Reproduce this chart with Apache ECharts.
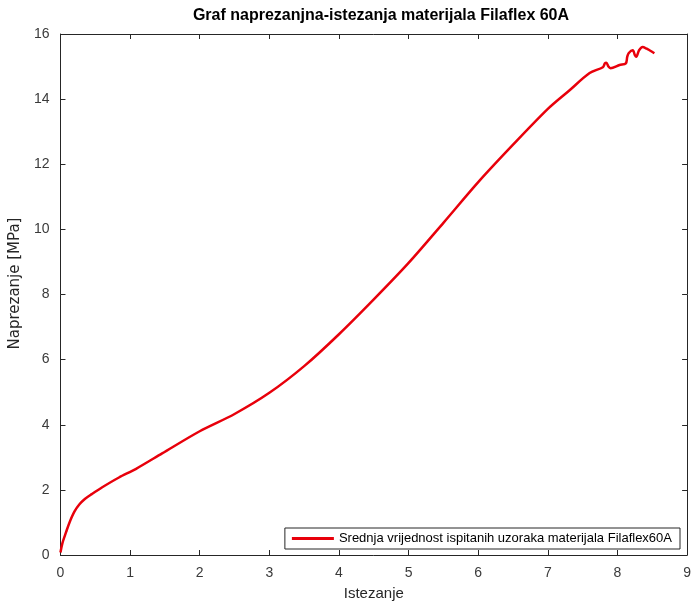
<!DOCTYPE html>
<html>
<head>
<meta charset="utf-8">
<script src="https://cdn.jsdelivr.net/npm/echarts@6/dist/echarts.min.js"></script>
<style>html,body{margin:0;padding:0;background:#fff}#c{width:694px;height:606px}</style>
</head>
<body>
<div id="c"></div>
<script>
const strain = [0, 0.03, 0.08, 0.13, 0.2, 0.27, 0.35, 0.45, 0.6, 0.84, 1.08, 1.46, 2.0, 2.5, 3.0, 3.5, 4.0, 4.5, 5.0, 5.5, 6.0, 6.5, 7.0, 7.3, 7.6, 7.79, 7.82, 7.84, 7.87, 7.9, 8.03, 8.12, 8.14, 8.16, 8.22, 8.25, 8.27, 8.31, 8.36, 8.42, 8.46, 8.53];
const stress = [0.08, 0.38, 0.7, 1.0, 1.33, 1.55, 1.72, 1.87, 2.08, 2.38, 2.64, 3.12, 3.8, 4.33, 4.98, 5.8, 6.78, 7.85, 8.97, 10.2, 11.45, 12.6, 13.7, 14.25, 14.8, 14.98, 15.1, 15.12, 15.0, 14.95, 15.05, 15.1, 15.3, 15.41, 15.5, 15.35, 15.3, 15.5, 15.6, 15.55, 15.5, 15.41];
const seriesName = 'Srednja vrijednost ispitanih uzoraka materijala Filaflex60A';
const titleText = 'Graf naprezanjna-istezanja materijala Filaflex 60A';
const xName = 'Istezanje';
const yName = 'Naprezanje [MPa]';

const data = strain.map((x, i) => [x, stress[i]]);
const font = 'Liberation Sans, Arial, sans-serif';
const axCol = '#262626';
const chart = echarts.init(document.getElementById('c'));
const baseAxis = {
  axisLine: {show: true, onZero: false, lineStyle: {color: axCol, width: 1}},
  axisTick: {show: true, inside: true, length: 5, lineStyle: {color: axCol}},
  splitLine: {show: false}
};
chart.setOption({
  animation: false,
  backgroundColor: '#fff',
  title: {
    text: titleText, left: 376, top: 3, textAlign: 'center',
    textStyle: {fontFamily: font, fontSize: 16, fontWeight: 'bold', color: '#000'}
  },
  grid: {left: 58, right: 6, top: 34, bottom: 48},
  legend: {
    data: [seriesName], right: 14, bottom: 57,
    icon: 'rect',
    borderColor: axCol, borderWidth: 1, padding: [4, 8, 4, 7],
    itemWidth: 42, itemHeight: 3, itemGap: 4,
    textStyle: {fontFamily: font, fontSize: 13, color: '#000'}
  },
  xAxis: [
    Object.assign({}, baseAxis, {
      type: 'value', min: 0, max: 9, interval: 1, position: 'bottom',
      name: xName, nameLocation: 'middle', nameGap: 31,
      nameTextStyle: {fontFamily: font, fontSize: 15, color: axCol},
      axisLabel: {fontFamily: font, fontSize: 14, color: '#3a3a3a', margin: 11}
    }),
    Object.assign({}, baseAxis, {
      type: 'value', min: 0, max: 9, interval: 1, position: 'top',
      axisLabel: {show: false}
    })
  ],
  yAxis: [
    Object.assign({}, baseAxis, {
      type: 'value', min: 0, max: 16, interval: 2, position: 'left',
      name: yName, nameLocation: 'middle', nameGap: 30,
      nameTextStyle: {fontFamily: 'DejaVu Sans, sans-serif', fontSize: 15, color: axCol, padding: [0, 0, 0, 22]},
      axisLabel: {fontFamily: font, fontSize: 14, color: '#3a3a3a', margin: 11}
    }),
    Object.assign({}, baseAxis, {
      type: 'value', min: 0, max: 16, interval: 2, position: 'right',
      axisLabel: {show: false}
    })
  ],
  series: [{
    name: seriesName, type: 'line', data: data,
    xAxisIndex: 0, yAxisIndex: 0,
    showSymbol: false, symbol: 'none', smooth: 0.3,
    lineStyle: {color: '#e8000b', width: 2.5},
    itemStyle: {color: '#e8000b'}
  }]
});
</script>
</body>
</html>
